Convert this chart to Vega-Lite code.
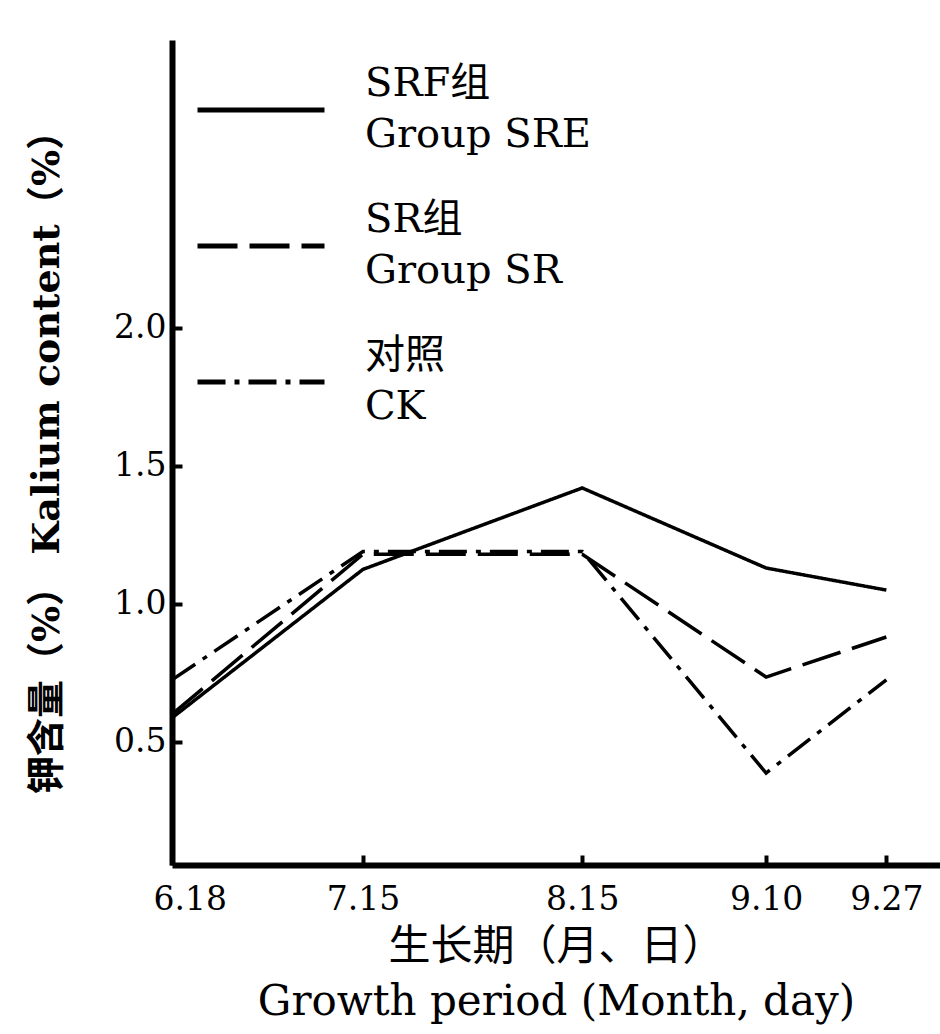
{
  "$schema": "https://vega.github.io/schema/vega-lite/v6.json",
  "autosize": {"type": "none"},
  "width": 768,
  "height": 825,
  "padding": {"left": 172, "top": 40, "right": 0, "bottom": 169},
  "background": "white",
  "data": {
    "values": [
      {"date": "1980-06-18", "group": "SRF组|Group SRE", "k": 0.587},
      {"date": "1980-07-15", "group": "SRF组|Group SRE", "k": 1.125},
      {"date": "1980-08-15", "group": "SRF组|Group SRE", "k": 1.42},
      {"date": "1980-09-10", "group": "SRF组|Group SRE", "k": 1.13},
      {"date": "1980-09-27", "group": "SRF组|Group SRE", "k": 1.05},
      {"date": "1980-06-18", "group": "SR组|Group SR", "k": 0.6},
      {"date": "1980-07-15", "group": "SR组|Group SR", "k": 1.18},
      {"date": "1980-08-15", "group": "SR组|Group SR", "k": 1.18},
      {"date": "1980-09-10", "group": "SR组|Group SR", "k": 0.735},
      {"date": "1980-09-27", "group": "SR组|Group SR", "k": 0.88},
      {"date": "1980-06-18", "group": "对照|CK", "k": 0.725},
      {"date": "1980-07-15", "group": "对照|CK", "k": 1.19},
      {"date": "1980-08-15", "group": "对照|CK", "k": 1.19},
      {"date": "1980-09-10", "group": "对照|CK", "k": 0.387},
      {"date": "1980-09-27", "group": "对照|CK", "k": 0.725}
    ]
  },
  "mark": {"type": "line", "color": "black", "strokeWidth": 3.5, "clip": true},
  "encoding": {
    "x": {
      "field": "date",
      "type": "temporal",
      "scale": {
        "type": "utc",
        "domain": [
          {"year": 1980, "month": 6, "date": 18, "utc": true},
          {"year": 1980, "month": 10, "date": 4, "hours": 14, "utc": true}
        ]
      },
      "axis": {
        "values": [
          {"year": 1980, "month": 6, "date": 18, "utc": true},
          {"year": 1980, "month": 7, "date": 15, "utc": true},
          {"year": 1980, "month": 8, "date": 15, "utc": true},
          {"year": 1980, "month": 9, "date": 10, "utc": true},
          {"year": 1980, "month": 9, "date": 27, "utc": true}
        ],
        "format": "%-m.%d",
        "labelFlush": true,
        "labelFlushOffset": 19,
        "labelFont": "DejaVu Serif",
        "labelFontSize": 33,
        "labelColor": "black",
        "labelPadding": 28,
        "tickSize": -10,
        "tickWidth": 4,
        "tickColor": "black",
        "domainColor": "black",
        "domainWidth": 6,
        "grid": false,
        "title": ["生长期（月、日）", "Growth period (Month, day)"],
        "titleFont": "DejaVu Serif, Noto Sans CJK SC",
        "titleFontSize": 42,
        "titleFontWeight": "normal",
        "titleColor": "black",
        "titleLineHeight": 55,
        "titlePadding": 10
      }
    },
    "y": {
      "field": "k",
      "type": "quantitative",
      "scale": {"domain": [0.054, 3.043], "nice": false, "zero": false},
      "axis": {
        "values": [0.5, 1.0, 1.5, 2.0],
        "format": ".1f",
        "labelFont": "DejaVu Serif",
        "labelFontSize": 33,
        "labelColor": "black",
        "labelPadding": 16,
        "tickSize": -10,
        "tickWidth": 4,
        "tickColor": "black",
        "domainColor": "black",
        "domainWidth": 6,
        "grid": false,
        "title": "钾含量（%） Kalium content（%）",
        "titleFont": "DejaVu Serif, Noto Sans CJK SC",
        "titleFontSize": 38,
        "titleFontWeight": "bold",
        "titleColor": "black",
        "titlePadding": 47
      }
    },
    "strokeDash": {
      "field": "group",
      "type": "nominal",
      "scale": {
        "domain": ["SRF组|Group SRE", "SR组|Group SR", "对照|CK"],
        "range": [[1, 0], [40, 12], [28, 9, 5, 9]]
      },
      "legend": {
        "orient": "none",
        "legendX": 23,
        "legendY": 4,
        "title": null,
        "padding": 0,
        "symbolType": "stroke",
        "symbolSize": 16129,
        "symbolStrokeWidth": 5,
        "symbolStrokeColor": "black",
        "labelFont": "DejaVu Serif, Noto Sans CJK SC",
        "labelFontSize": 40,
        "labelColor": "black",
        "labelBaseline": "line-bottom",
        "labelOffset": 38,
        "labelLimit": 0,
        "rowPadding": 25,
        "labelExpr": "split(datum.label, '|')",
        "encode": {"labels": {"update": {"lineHeight": {"value": 51}}}}
      }
    }
  },
  "config": {"view": {"stroke": null}}
}
